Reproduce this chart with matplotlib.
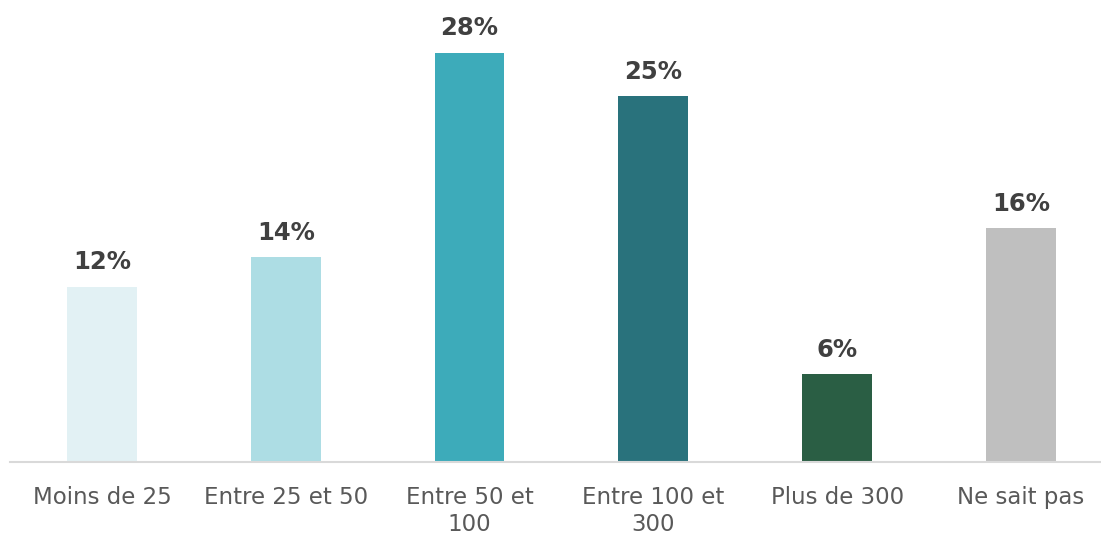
import matplotlib.pyplot as plt

categories = ['Moins de 25', 'Entre 25 et 50', 'Entre 50 et\n100', 'Entre 100 et\n300', 'Plus de 300', 'Ne sait pas']
values = [12, 14, 28, 25, 6, 16]
colors = ['#e2f1f4', '#addde4', '#3dabba', '#29727c', '#2a5e44', '#bfbfbf']

fig = plt.figure(figsize=(11.01, 5.34), dpi=100)
ax = fig.add_axes([10 / 1101, 72 / 534, 1091 / 1101, 462 / 534])

x = range(len(categories))
ax.bar(x, values, width=0.38, color=colors)

for i, v in enumerate(values):
    ax.annotate(f'{v}%', (i, v), xytext=(0, 9), textcoords='offset points',
                ha='center', va='bottom', fontsize=17.5, fontweight='bold', color='#404040')

ax.set_xlim(-0.5, 5.435)
ax.set_ylim(0, 31.6)
ax.set_xticks(list(x))
ax.set_xticklabels(categories, fontsize=16.5, color='#595959', linespacing=1.25)
ax.tick_params(axis='x', length=0, pad=17)
ax.set_yticks([])
for s in ['top', 'right', 'left']:
    ax.spines[s].set_visible(False)
ax.spines['bottom'].set_color('#d9d9d9')
ax.spines['bottom'].set_linewidth(1.5)

fig.savefig('out.png', dpi=100)
